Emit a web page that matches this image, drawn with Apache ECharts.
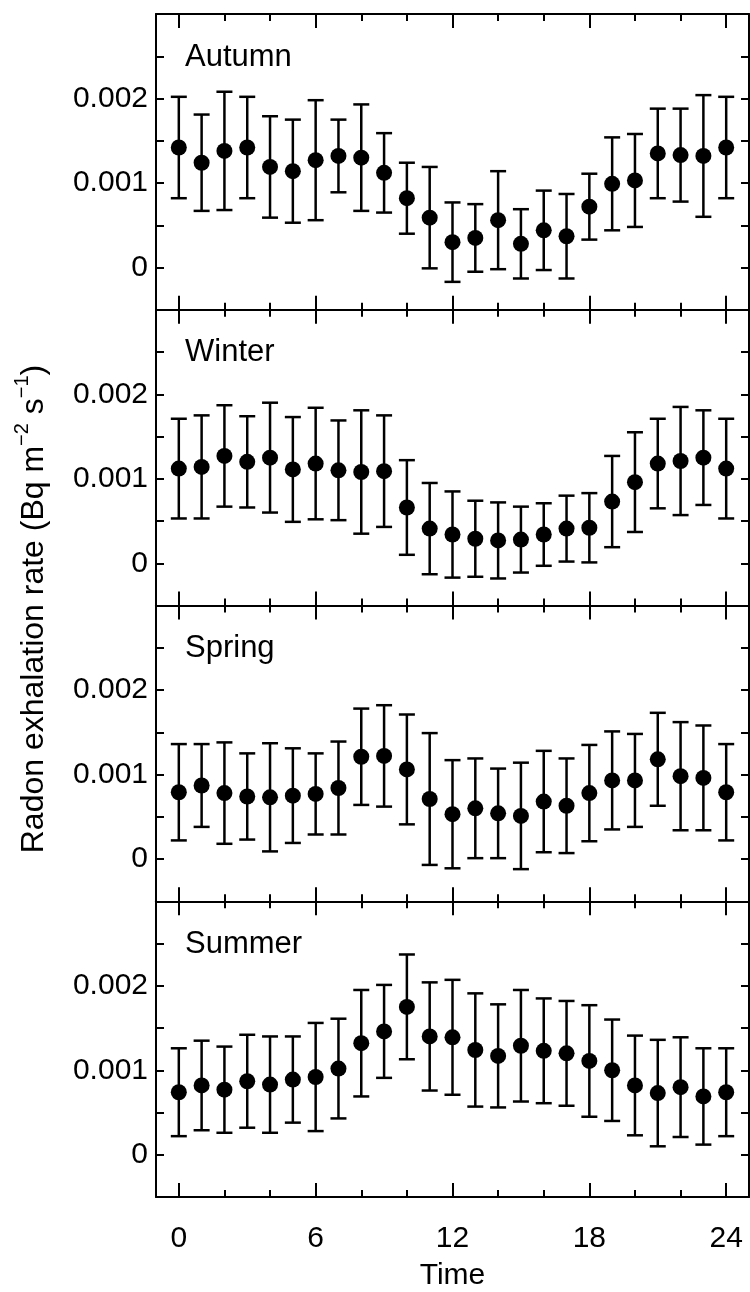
<!DOCTYPE html>
<html>
<head>
<meta charset="utf-8">
<script src="https://cdn.jsdelivr.net/npm/echarts@6/dist/echarts.min.js"></script>
<style>
  html, body { margin: 0; padding: 0; background: #fff; }
  #chartDom { width: 750px; height: 1292px; }
</style>
</head>
<body>
<div id="chartDom"></div>
<script>
// hour of day
const hours = [0, 1, 2, 3, 4, 5, 6, 7, 8, 9, 10, 11, 12, 13, 14, 15, 16, 17, 18, 19, 20, 21, 22, 23, 24];
const seasons = ['Autumn', 'Winter', 'Spring', 'Summer'];

// mean radon exhalation rate (Bq m-2 s-1) and error bar half-length
const autumnMean = [0.00142, 0.00124, 0.00138, 0.00142, 0.00119, 0.00114, 0.00127, 0.00132, 0.00130, 0.00112, 0.00082, 0.00059, 0.00030, 0.00035, 0.00056, 0.00028, 0.00044, 0.00037, 0.00072, 0.00099, 0.00103, 0.00135, 0.00133, 0.00132, 0.00142];
const autumnErr = [0.00060, 0.00057, 0.00070, 0.00060, 0.00060, 0.00061, 0.00071, 0.00043, 0.00063, 0.00047, 0.00042, 0.00060, 0.00047, 0.00040, 0.00058, 0.00041, 0.00047, 0.00050, 0.00039, 0.00055, 0.00055, 0.00053, 0.00055, 0.00072, 0.00060];

const winterMean = [0.00112, 0.00114, 0.00127, 0.00120, 0.00125, 0.00111, 0.00118, 0.00110, 0.00108, 0.00109, 0.00066, 0.00041, 0.00034, 0.00029, 0.00027, 0.00028, 0.00034, 0.00041, 0.00042, 0.00073, 0.00096, 0.00118, 0.00121, 0.00125, 0.00112];
const winterErr = [0.00059, 0.00061, 0.00060, 0.00054, 0.00065, 0.00062, 0.00066, 0.00059, 0.00073, 0.00066, 0.00056, 0.00054, 0.00051, 0.00045, 0.00045, 0.00039, 0.00037, 0.00039, 0.00041, 0.00054, 0.00059, 0.00053, 0.00064, 0.00056, 0.00059];

const springMean = [0.00079, 0.00087, 0.00078, 0.00074, 0.00073, 0.00075, 0.00077, 0.00084, 0.00121, 0.00122, 0.00106, 0.00071, 0.00053, 0.00060, 0.00054, 0.00051, 0.00068, 0.00063, 0.00078, 0.00093, 0.00093, 0.00118, 0.00098, 0.00096, 0.00079];
const springErr = [0.00057, 0.00049, 0.00060, 0.00051, 0.00064, 0.00056, 0.00048, 0.00055, 0.00057, 0.00060, 0.00065, 0.00078, 0.00064, 0.00059, 0.00053, 0.00063, 0.00060, 0.00056, 0.00057, 0.00058, 0.00055, 0.00055, 0.00064, 0.00062, 0.00057];

const summerMean = [0.00074, 0.00082, 0.00077, 0.00087, 0.00083, 0.00089, 0.00092, 0.00102, 0.00132, 0.00146, 0.00175, 0.00140, 0.00139, 0.00124, 0.00117, 0.00129, 0.00123, 0.00120, 0.00111, 0.00100, 0.00082, 0.00073, 0.00080, 0.00069, 0.00074];
const summerErr = [0.00052, 0.00053, 0.00051, 0.00055, 0.00057, 0.00051, 0.00064, 0.00059, 0.00063, 0.00055, 0.00062, 0.00064, 0.00068, 0.00067, 0.00061, 0.00066, 0.00062, 0.00062, 0.00066, 0.00060, 0.00059, 0.00063, 0.00059, 0.00057, 0.00052];

// axis ticks
const xMajorTicks = [0, 6, 12, 18, 24];
const xMinorTicks = [0, 2, 4, 6, 8, 10, 12, 14, 16, 18, 20, 22, 24];
const yLabelValues = [0, 0.001, 0.002];

const means = [autumnMean, winterMean, springMean, summerMean];
const errs = [autumnErr, winterErr, springErr, summerErr];

const FONT = '"Liberation Sans", Arial, Helvetica, sans-serif';
const GRID_TOP = 14;
const GRID_H = 295.75;
const black = '#000';

const grids = [];
const xAxes = [];
const yAxes = [];
const series = [];
const graphics = [];

seasons.forEach((name, i) => {
  const top = GRID_TOP + i * GRID_H;
  grids.push({ left: 156, right: 1, top: top, height: GRID_H, outerBoundsMode: 'none' });

  const isLast = i === seasons.length - 1;
  ['bottom', 'top'].forEach((pos) => {
    // major ticks
    xAxes.push({
      gridIndex: i, type: 'value', min: -1, max: 25, position: pos,
      axisLine: { show: true, onZero: false, lineStyle: { color: black, width: 2 } },
      axisTick: { show: true, inside: true, length: 14, customValues: xMajorTicks, lineStyle: { color: black, width: 2 } },
      axisLabel: {
        show: isLast && pos === 'bottom', customValues: xMajorTicks, margin: 27,
        color: black, fontSize: 30, fontFamily: FONT
      },
      splitLine: { show: false },
      name: isLast && pos === 'bottom' ? 'Time' : '',
      nameLocation: 'middle', nameGap: 64,
      nameTextStyle: { color: black, fontSize: 30, fontFamily: FONT }
    });
    // minor ticks
    xAxes.push({
      gridIndex: i, type: 'value', min: -1, max: 25, position: pos,
      axisLine: { show: false, onZero: false },
      axisTick: { show: true, inside: true, length: 7, customValues: xMinorTicks, lineStyle: { color: black, width: 2 } },
      axisLabel: { show: false },
      splitLine: { show: false }
    });
  });

  ['left', 'right'].forEach((pos) => {
    yAxes.push({
      gridIndex: i, type: 'value', min: -0.0005, max: 0.003, interval: 0.0005, position: pos,
      axisLine: { show: true, onZero: false, lineStyle: { color: black, width: 2 } },
      axisTick: { show: true, inside: true, length: 8, lineStyle: { color: black, width: 2 } },
      axisLabel: {
        show: pos === 'left', margin: 8, color: black, fontSize: 30, fontFamily: FONT,
        showMinLabel: true, showMaxLabel: true,
        formatter: (v) => {
          const hit = yLabelValues.find((t) => Math.abs(t - v) < 1e-9);
          return hit === undefined ? '' : String(hit);
        }
      },
      splitLine: { show: false }
    });
  });

  const m = means[i];
  const e = errs[i];
  series.push({
    type: 'custom',
    xAxisIndex: i * 4, yAxisIndex: i * 2,
    encode: { x: 0, y: [1, 2] },
    data: hours.map((h, k) => [h, m[k] - e[k], m[k] + e[k]]),
    renderItem: (params, api) => {
      const x = api.value(0);
      const lo = api.coord([x, api.value(1)]);
      const hi = api.coord([x, api.value(2)]);
      const w = 8;
      const style = { stroke: black, lineWidth: 2.5 };
      return {
        type: 'group',
        children: [
          { type: 'line', shape: { x1: hi[0], y1: hi[1], x2: lo[0], y2: lo[1] }, style: style },
          { type: 'line', shape: { x1: hi[0] - w, y1: hi[1], x2: hi[0] + w, y2: hi[1] }, style: style },
          { type: 'line', shape: { x1: lo[0] - w, y1: lo[1], x2: lo[0] + w, y2: lo[1] }, style: style }
        ]
      };
    },
    z: 2
  });
  series.push({
    type: 'scatter',
    xAxisIndex: i * 4, yAxisIndex: i * 2,
    data: hours.map((h, k) => [h, m[k]]),
    symbol: 'circle', symbolSize: 16,
    itemStyle: { color: black, opacity: 1 },
    z: 3
  });

  graphics.push({
    type: 'text', x: 185, y: top + 43,
    style: { text: name, fill: black, font: '31px ' + FONT, verticalAlign: 'middle' }
  });
});

graphics.push({
  type: 'text', x: 31, y: 609, rotation: Math.PI / 2,
  style: {
    text: '{n|Radon exhalation rate (Bq m}{s|\u22122}{n| s}{s|\u22121}{n|)}',
    align: 'center', verticalAlign: 'middle',
    rich: {
      n: { fontSize: 32, fontFamily: FONT, fill: black, lineHeight: 38, verticalAlign: 'bottom' },
      s: { fontSize: 20, fontFamily: FONT, fill: black, lineHeight: 38, verticalAlign: 'top' }
    }
  }
});

const chart = echarts.init(document.getElementById('chartDom'));
chart.setOption({
  backgroundColor: '#fff',
  animation: false,
  grid: grids,
  xAxis: xAxes,
  yAxis: yAxes,
  series: series,
  graphic: graphics
});
</script>
</body>
</html>
